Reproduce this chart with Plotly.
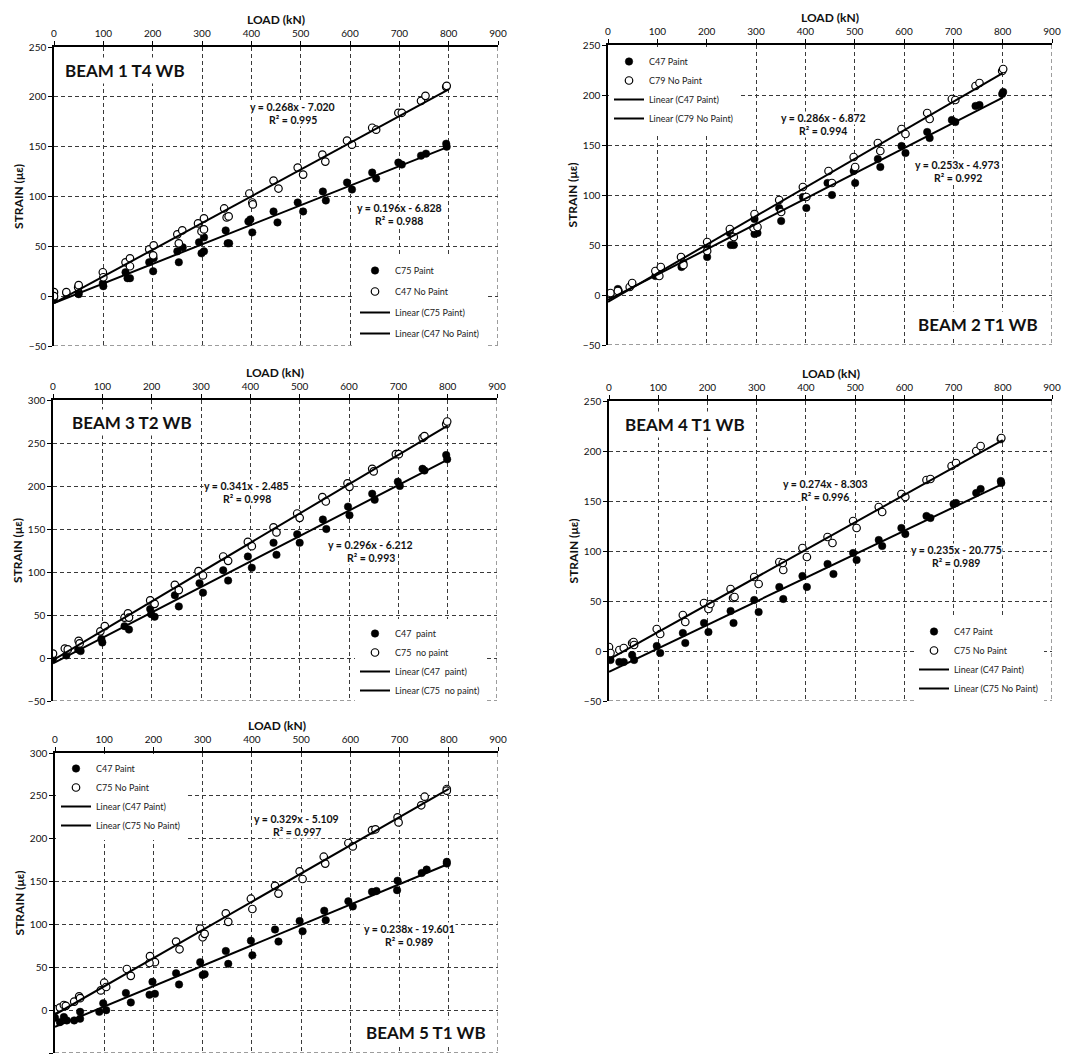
import plotly.graph_objects as go

# ---------------- DATA ----------------
beam_titles = ["BEAM 1 T4 WB", "BEAM 2 T1 WB", "BEAM 3 T2 WB", "BEAM 4 T1 WB", "BEAM 5 T1 WB"]
paint_names = ["C75 Paint", "C47 Paint", "C47\u00a0 paint", "C47 Paint", "C47 Paint"]
nopaint_names = ["C47 No Paint", "C79 No Paint", "C75\u00a0 no paint", "C75 No Paint", "C75 No Paint"]
x_title = "LOAD (kN)"
y_title = "STRAIN (με)"

b1_paint_x = [0, 25, 50, 50, 100, 99, 149, 154, 145, 193, 201, 202, 250, 253, 261, 294, 299, 304, 304, 348, 352, 355,
              394, 398, 402, 445, 453, 494, 505, 545, 551, 594, 604, 645, 653, 698, 705, 744, 754, 795, 796]
b1_paint_y = [-2, 3, 2, 4, 10, 13, 18, 18, 24, 34, 25, 38, 45, 34, 49, 54, 43, 45, 59, 66, 53, 53,
              75, 77, 64, 85, 74, 94, 85, 105, 96, 114, 107, 124, 118, 134, 132, 141, 143, 153, 150]
b1_nopaint_x = [0, 0, 25, 49, 50, 99, 100, 145, 154, 154, 193, 202, 201, 250, 260, 253, 292, 304, 299, 304, 345, 350, 354,
                396, 402, 403, 445, 455, 494, 505, 544, 550, 594, 604, 645, 653, 698, 705, 744, 753, 795, 796]
b1_nopaint_y = [4, 0, 4, 9, 11, 24, 19, 34, 38, 30, 47, 51, 41, 62, 66, 53, 73, 78, 65, 67, 88, 79, 80,
                103, 94, 92, 116, 108, 129, 122, 142, 135, 156, 152, 169, 167, 184, 184, 196, 201, 210, 211]

b2_paint_x = [5, 20, 22, 96, 101, 149, 153, 201, 201, 247, 249, 255, 297, 297, 303, 347, 351, 395, 402, 445, 454,
              498, 501, 547, 552, 595, 603, 647, 652, 697, 704, 745, 753, 799, 801]
b2_paint_y = [1, 6, 4, 19, 22, 28, 32, 38, 48, 62, 50, 50, 76, 61, 62, 87, 74, 98, 87, 112, 100,
              124, 112, 136, 128, 149, 142, 163, 157, 175, 173, 189, 190, 201, 203]
b2_nopaint_x = [0, 5, 20, 44, 49, 96, 107, 104, 148, 153, 201, 201, 247, 255, 297, 295, 303, 347, 351, 395, 402,
                447, 454, 498, 501, 547, 552, 595, 603, 647, 652, 697, 704, 745, 753, 799, 801]
b2_nopaint_y = [1, 2, 4, 8, 12, 24, 28, 19, 38, 30, 53, 44, 66, 58, 81, 67, 68, 95, 83, 108, 98,
                124, 112, 138, 128, 152, 144, 166, 161, 182, 176, 196, 195, 209, 212, 224, 226]

b3_paint_x = [0, 27, 51, 56, 98, 100, 145, 154, 199, 206, 197, 247, 255, 297, 304, 345, 355, 395, 403, 447, 453,
              495, 500, 547, 554, 598, 601, 647, 652, 699, 703, 749, 753, 797, 799]
b3_paint_y = [-1, 3, 10, 8, 22, 18, 37, 33, 51, 48, 57, 73, 60, 87, 76, 102, 90, 118, 105, 134, 120,
              144, 134, 161, 150, 176, 166, 191, 184, 205, 200, 220, 218, 236, 231]
b3_nopaint_x = [0, 24, 30, 52, 54, 96, 105, 145, 152, 154, 197, 206, 247, 255, 295, 304, 345, 355, 395, 403,
                447, 453, 495, 500, 546, 553, 597, 601, 647, 650, 695, 701, 749, 753, 797, 799]
b3_nopaint_y = [5, 11, 10, 20, 17, 31, 37, 47, 52, 47, 67, 63, 85, 79, 101, 96, 118, 113, 135, 130,
                152, 146, 168, 163, 187, 182, 203, 199, 220, 217, 237, 237, 256, 258, 272, 275]

b4_paint_x = [3, 21, 30, 47, 51, 97, 104, 150, 155, 193, 202, 247, 253, 295, 304, 346, 354, 393, 402, 444, 456,
              496, 503, 548, 555, 594, 602, 645, 653, 700, 705, 746, 755, 796, 797]
b4_paint_y = [-9, -11, -11, -4, -9, 5, -2, 18, 8, 28, 19, 40, 28, 51, 39, 64, 52, 75, 64, 87, 77,
              98, 91, 111, 105, 123, 117, 135, 133, 147, 148, 158, 162, 170, 168]
b4_nopaint_x = [0, 3, 21, 30, 47, 50, 51, 97, 104, 150, 155, 193, 202, 206, 247, 252, 255, 295, 304, 346, 354, 353,
                393, 402, 444, 454, 496, 503, 548, 555, 594, 602, 645, 653, 696, 705, 746, 755, 796, 797]
b4_nopaint_y = [4, -2, 1, 3, 8, 9, 6, 22, 17, 36, 29, 48, 42, 47, 62, 53, 54, 74, 67, 89, 81, 88,
                103, 94, 114, 108, 130, 123, 144, 139, 157, 154, 171, 172, 185, 188, 200, 205, 212, 213]

b5_paint_x = [0, 10, 18, 24, 39, 51, 51, 90, 98, 104, 144, 154, 192, 203, 198, 246, 252, 295, 300, 304, 347, 352,
              398, 401, 447, 454, 497, 503, 547, 550, 596, 605, 644, 653, 696, 695, 745, 755, 796, 796]
b5_paint_y = [-9, -14, -8, -12, -12, -2, -10, -2, 8, 0, 20, 9, 18, 19, 33, 43, 30, 56, 41, 42, 69, 54,
              81, 64, 94, 80, 104, 92, 116, 105, 127, 121, 138, 139, 151, 140, 160, 164, 173, 171]
b5_nopaint_x = [0, 10, 18, 22, 39, 49, 51, 93, 100, 104, 146, 154, 193, 203, 192, 246, 253, 295, 300, 304, 347, 352,
                398, 401, 447, 454, 497, 503, 546, 549, 596, 605, 644, 651, 696, 698, 744, 751, 796, 796]
b5_nopaint_y = [1, 3, 6, 5, 10, 16, 14, 23, 32, 27, 48, 40, 63, 56, 55, 80, 71, 95, 85, 89, 113, 103,
                130, 118, 145, 136, 162, 153, 179, 171, 195, 191, 210, 211, 225, 219, 239, 249, 258, 256]

# linear trend lines (trendline equations shown on the chart)
slope_paint = [0.196, 0.253, 0.296, 0.235, 0.238]
intercept_paint = [-6.828, -4.973, -6.212, -20.775, -19.601]
r2_paint = [0.988, 0.992, 0.993, 0.989, 0.989]
slope_nopaint = [0.268, 0.286, 0.341, 0.274, 0.329]
intercept_nopaint = [-7.020, -6.872, -2.485, -8.303, -5.109]
r2_nopaint = [0.995, 0.994, 0.998, 0.996, 0.997]
trend_x = [0, 800]

x_ticks = list(range(0, 901, 100))
x_range = [0, 900]
y_ranges = [[-50, 250], [-50, 250], [-50, 300], [-50, 250], [-50, 300]]

paint_x = [b1_paint_x, b2_paint_x, b3_paint_x, b4_paint_x, b5_paint_x]
paint_y = [b1_paint_y, b2_paint_y, b3_paint_y, b4_paint_y, b5_paint_y]
nopaint_x = [b1_nopaint_x, b2_nopaint_x, b3_nopaint_x, b4_nopaint_x, b5_nopaint_x]
nopaint_y = [b1_nopaint_y, b2_nopaint_y, b3_nopaint_y, b4_nopaint_y, b5_nopaint_y]

# ---------------- LAYOUT CONFIG ----------------
W, H = 1070, 1046          # page body has an 8px margin
FONT = "Lato, 'Open Sans', sans-serif"
# plot-area pixel boxes (left, right, top, bottom) in figure coordinates
boxes = [(46, 490, 39, 338), (600, 1044, 37, 337), (45, 489, 392, 693), (601, 1044, 393, 693), (47, 490, 745, 1045)]
# legend box: (left px, top px, group gap)
legend_box = [(347, 248, 2), (601, 39, 0), (347, 611, 0), (906, 609, 0), (48, 746, 0)]
# equation label centres in data units: (x_nopaint, y_nopaint, x_paint, y_paint)
eq_pos = [(484, 183, 700, 81.5), (436, 171, 709, 123.5), (393, 193, 644, 123.5),
          (439, 161, 705, 95), (491, 216, 720, 87)]
# beam title: (x, y, xanchor) in data units
title_pos = [(16, 226.5, "left"), (878, -29, "right"), (32, 274, "left"), (26, 227, "left"), (882, -26.5, "right")]

GRID = "#3a3a3a"
DASH = "4px,3px"

fig = go.Figure()
layout = dict(
    width=W, height=H, margin=dict(l=0, r=0, t=0, b=0),
    paper_bgcolor="white", plot_bgcolor="white",
    font=dict(family=FONT, size=10, color="#111"),
    annotations=[], shapes=[],
)

for i in range(5):
    n = i + 1
    sx = "" if n == 1 else str(n)
    xa, ya = "x" + sx, "y" + sx
    lg = "legend" + sx
    l, r, t, b = boxes[i]

    fig.add_trace(go.Scatter(
        x=paint_x[i], y=paint_y[i], mode="markers", name=paint_names[i],
        marker=dict(symbol="circle", size=7.5, color="black", line=dict(color="black", width=0.5)),
        xaxis=xa, yaxis=ya, legend=lg, legendgroup=f"p{n}a"))
    fig.add_trace(go.Scatter(
        x=nopaint_x[i], y=nopaint_y[i], mode="markers", name=nopaint_names[i],
        marker=dict(symbol="circle", size=7.5, color="white", line=dict(color="black", width=1.2)),
        xaxis=xa, yaxis=ya, legend=lg, legendgroup=f"p{n}b"))
    fig.add_trace(go.Scatter(
        x=trend_x, y=[slope_paint[i] * v + intercept_paint[i] for v in trend_x], mode="lines",
        name="Linear (" + paint_names[i] + ")", line=dict(color="black", width=2),
        xaxis=xa, yaxis=ya, legend=lg, legendgroup=f"p{n}c"))
    fig.add_trace(go.Scatter(
        x=trend_x, y=[slope_nopaint[i] * v + intercept_nopaint[i] for v in trend_x], mode="lines",
        name="Linear (" + nopaint_names[i] + ")", line=dict(color="black", width=2),
        xaxis=xa, yaxis=ya, legend=lg, legendgroup=f"p{n}d"))

    layout["xaxis" + sx] = dict(
        domain=[l / W, r / W], anchor=ya, side="top", range=x_range,
        tickvals=x_ticks, showline=True, linecolor="black", linewidth=1.5,
        ticks="outside", ticklen=4, tickcolor="black", tickwidth=1, ticklabelstandoff=0,
        showgrid=True, gridcolor=GRID, gridwidth=1, griddash=DASH, zeroline=False,
        tickfont=dict(family=FONT, size=10, color="#111"),
        automargin=False, fixedrange=True)
    layout["yaxis" + sx] = dict(
        domain=[1 - b / H, 1 - t / H], anchor=xa, range=y_ranges[i], dtick=50, tick0=0,
        showline=True, linecolor="black", linewidth=1.5,
        ticks="outside", ticklen=4, tickcolor="black", tickwidth=1,
        showgrid=True, gridcolor=GRID, gridwidth=1, griddash=DASH, zeroline=False,
        tickfont=dict(family=FONT, size=10, color="#111"),
        title=dict(text="<b>" + y_title + "</b>", font=dict(family=FONT, size=12, color="#111"), standoff=3),
        automargin=False, fixedrange=True)

    # x-axis title above the top tick labels
    layout["annotations"].append(dict(
        x=0.5, y=1, xref=xa + " domain", yref=ya + " domain", xanchor="center", yanchor="middle",
        yshift=28, showarrow=False, text="<b>" + x_title + "</b>",
        font=dict(family=FONT, size=12, color="#111")))

    # dashed frame lines on the right and bottom edges
    layout["shapes"].append(dict(
        type="line", xref=xa, yref=ya + " domain", x0=x_range[1], x1=x_range[1], y0=1, y1=0,
        line=dict(color=GRID, width=1, dash=DASH), layer="below"))
    layout["shapes"].append(dict(
        type="line", xref=xa + " domain", yref=ya, x0=0, x1=1, y0=y_ranges[i][0], y1=y_ranges[i][0],
        line=dict(color=GRID, width=1, dash=DASH), layer="below"))

    lx, ly, gap = legend_box[i]
    layout[lg] = dict(
        x=lx / W, y=1 - ly / H, xanchor="left", yanchor="top",
        bgcolor="white", borderwidth=0, font=dict(family=FONT, size=9, color="#222"),
        tracegroupgap=gap, traceorder="grouped", itemwidth=30)

    ex1, ey1, ex2, ey2 = eq_pos[i]
    for (ex, ey, s, c, r2) in [(ex1, ey1, slope_nopaint[i], intercept_nopaint[i], r2_nopaint[i]),
                               (ex2, ey2, slope_paint[i], intercept_paint[i], r2_paint[i])]:
        sign = "-" if c < 0 else "+"
        for txt, shift in [(f"y = {s:.3f}x {sign} {abs(c):.3f}", 6.5), (f"R² = {r2:.3f}", -6.5)]:
            layout["annotations"].append(dict(
                x=ex, y=ey, xref=xa, yref=ya, showarrow=False, xanchor="center", yanchor="middle",
                yshift=shift, text="<b>" + txt + "</b>",
                font=dict(family=FONT, size=10.5, color="#111"), bgcolor="white", borderpad=0))

    bx, by, anc = title_pos[i]
    layout["annotations"].append(dict(
        x=bx, y=by, xref=xa, yref=ya, showarrow=False, xanchor=anc, yanchor="middle",
        text="<b>" + beam_titles[i] + "</b>", font=dict(family=FONT, size=17, color="#111"),
        bgcolor="white", borderpad=2))

fig.update_layout(**layout)
fig.write_html("out.html")
